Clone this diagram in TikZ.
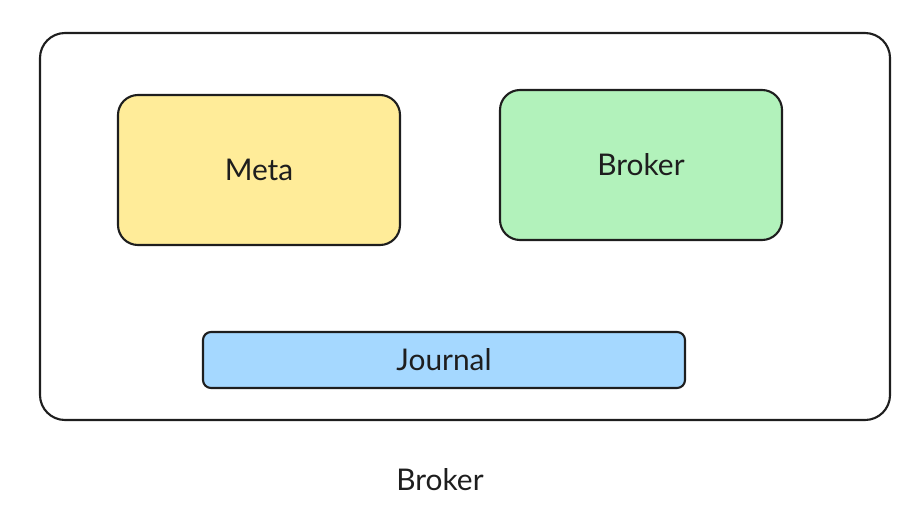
\documentclass[tikz,border=0pt]{standalone}
\usepackage{fontspec}
\setmainfont{Lato}
\usepackage{tikz}
\usetikzlibrary{positioning}
\definecolor{ink}{HTML}{1E1E1E}
\definecolor{metafill}{HTML}{FFEC99}
\definecolor{brokerfill}{HTML}{B2F2BB}
\definecolor{journalfill}{HTML}{A5D8FF}
\tikzset{
  box/.style={draw=ink, line width=0.6pt, rounded corners=0.2cm, inner sep=0pt,
    font=\fontsize{8.5}{10}\selectfont, text=ink},
  part/.style={box, minimum width=2.82cm, minimum height=1.5cm},
}

\begin{document}
\begin{tikzpicture}
		\useasboundingbox (0,0) rectangle (9.1,5.16);
		% outer box
		\node[box, rounded corners=0.25cm, minimum width=8.5cm, minimum height=3.87cm] (outer) at (4.65,2.895) {};

		% parts
		\node[part, fill=metafill] (meta) at (2.59,3.46) {Meta};
		\node[part, fill=brokerfill] (broker) at (6.41,3.51) {Broker};
		\node[box, fill=journalfill, rounded corners=0.08cm, minimum width=4.82cm, minimum height=0.56cm] (journal) at (4.44,1.56) {Journal};

		% caption
		\node[font=\fontsize{8.5}{10}\selectfont, text=ink] (caption) at (4.40,0.36) {Broker};

	\end{tikzpicture}
\end{document}
